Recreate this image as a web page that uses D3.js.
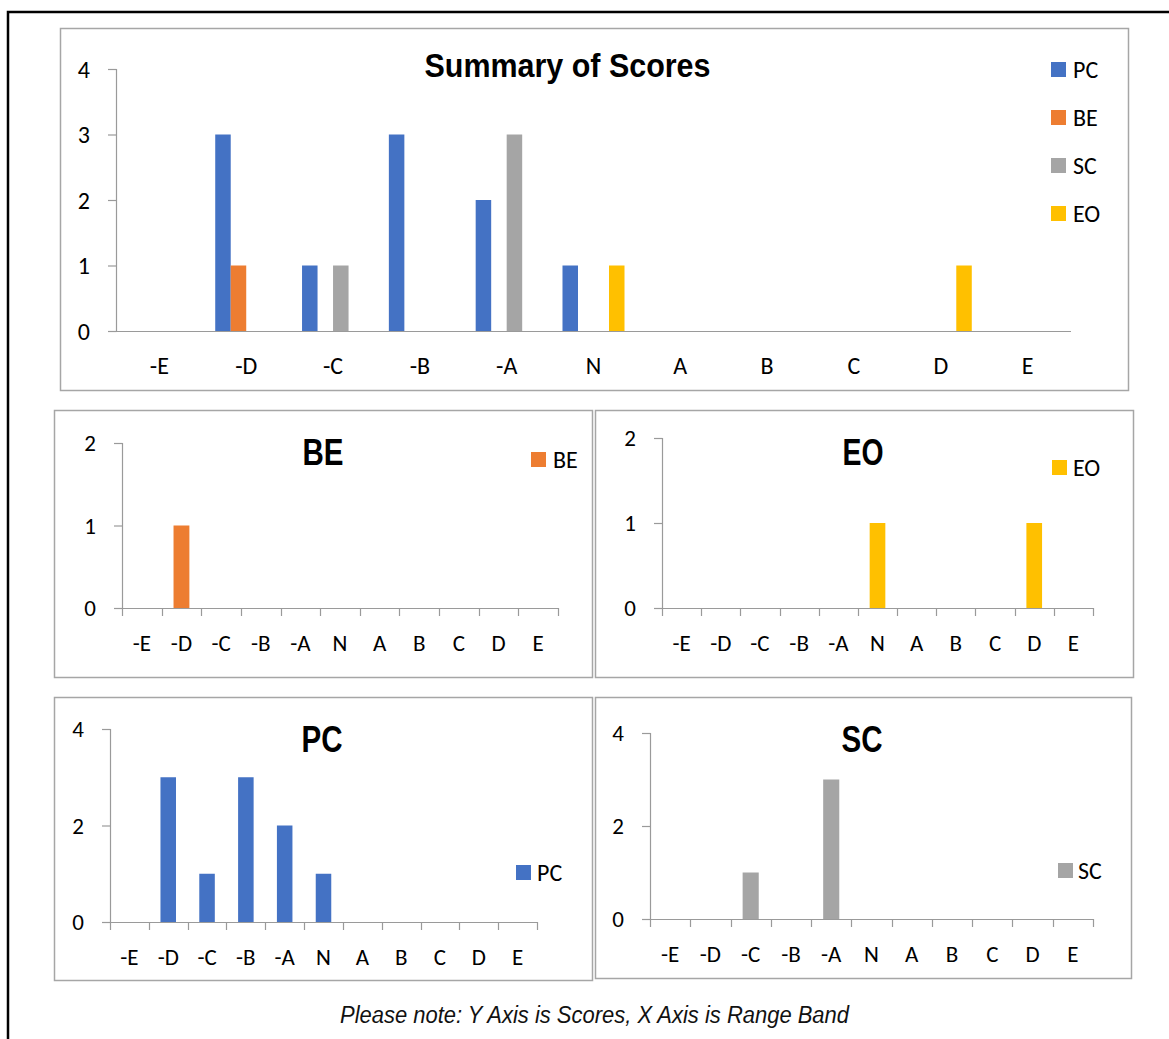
<!DOCTYPE html>
<html>
<head>
<meta charset="utf-8">
<script src="https://cdn.jsdelivr.net/npm/d3@7"></script>
<style>
  html, body { margin: 0; padding: 0; background: #fff; }
  svg { display: block; }
  .lbl { font-family: Carlito, Lato, "Open Sans", sans-serif; fill: #000; }
  .ttl { font-family: "Liberation Sans Narrow", "Arial Narrow", "Liberation Sans", Arial, sans-serif; font-weight: bold; fill: #000; }
  .note { font-family: "Liberation Sans Narrow", "Arial Narrow", "Liberation Sans", Arial, sans-serif; font-style: italic; fill: #111; }
</style>
</head>
<body>
<script>
// Range bands on the x axis
const categories = ["-E", "-D", "-C", "-B", "-A", "N", "A", "B", "C", "D", "E"];

// Score counts per range band for each group
const seriesNames = ["PC", "BE", "SC", "EO"];
const PC = [0, 3, 1, 3, 2, 1, 0, 0, 0, 0, 0];
const BE = [0, 1, 0, 0, 0, 0, 0, 0, 0, 0, 0];
const SC = [0, 0, 1, 0, 3, 0, 0, 0, 0, 0, 0];
const EO = [0, 0, 0, 0, 0, 1, 0, 0, 0, 1, 0];

// Y tick labels
const summaryTicks = [0, 1, 2, 3, 4];
const smallTicks2 = [0, 1, 2];
const smallTicks4 = [0, 2, 4];

const seriesValues = { PC, BE, SC, EO };
const colors = { PC: "#4472C4", BE: "#ED7D31", SC: "#A5A5A5", EO: "#FFC000" };

const W = 1169, H = 1039;
const axisColor = "#9a9a9a";
const frameColor = "#a6a6a6";

const svg = d3.select("body").append("svg")
  .attr("width", W).attr("height", H);

// Page border (left and top rule)
svg.append("path")
  .attr("d", `M8,${H} V12 H${W}`)
  .attr("fill", "none").attr("stroke", "#000").attr("stroke-width", 2.5);

function frame(x0, y0, x1, y1) {
  svg.append("rect")
    .attr("x", x0 + 0.5).attr("y", y0 + 0.5)
    .attr("width", x1 - x0).attr("height", y1 - y0)
    .attr("fill", "#fff").attr("stroke", frameColor).attr("stroke-width", 1.5);
}

function yAxis(g, y, ax, ticks, fontSize) {
  g.append("line")
    .attr("x1", ax + 0.5).attr("x2", ax + 0.5)
    .attr("y1", y(d3.max(ticks))).attr("y2", y(0))
    .attr("stroke", axisColor).attr("stroke-width", 1.2);
  ticks.forEach(t => {
    g.append("line")
      .attr("x1", ax - 8).attr("x2", ax + 0.5)
      .attr("y1", y(t) + 0.5).attr("y2", y(t) + 0.5)
      .attr("stroke", axisColor).attr("stroke-width", 1.2);
    g.append("text").attr("class", "lbl")
      .attr("x", ax - 26).attr("y", y(t) + fontSize * 0.36)
      .attr("text-anchor", "end").attr("font-size", fontSize)
      .text(t);
  });
}

function legendItem(g, name, sx, sy, size, tx, fontSize) {
  g.append("rect")
    .attr("x", sx).attr("y", sy).attr("width", size).attr("height", size)
    .attr("fill", colors[name]);
  g.append("text").attr("class", "lbl")
    .attr("x", tx).attr("y", sy + size / 2 + fontSize * 0.36)
    .attr("font-size", fontSize).text(name);
}

// ---------- Summary chart ----------
(function summary() {
  frame(60, 28, 1128, 390);
  const g = svg.append("g");
  const axL = 116, axR = 1071, y0 = 331, yTop = 69;
  const x0 = d3.scaleBand().domain(categories).range([axL, axR]).paddingInner(0).paddingOuter(0);
  const x1 = d3.scaleBand().domain(seriesNames).range([0, x0.bandwidth()]).paddingInner(0).paddingOuter(0.8);
  const y = d3.scaleLinear().domain([0, 4]).range([y0, yTop]);

  yAxis(g, y, axL, summaryTicks, 24);

  seriesNames.forEach(s => {
    g.selectAll(null).data(seriesValues[s].map((v, i) => ({ c: categories[i], v })))
      .enter().append("rect")
      .attr("x", d => x0(d.c) + x1(s))
      .attr("width", x1.bandwidth())
      .attr("y", d => y(d.v))
      .attr("height", d => y(0) - y(d.v))
      .attr("fill", colors[s]);
  });

  g.append("line")
    .attr("x1", axL - 8).attr("x2", axR)
    .attr("y1", y0 + 0.5).attr("y2", y0 + 0.5)
    .attr("stroke", axisColor).attr("stroke-width", 1.2);

  categories.forEach(c => {
    g.append("text").attr("class", "lbl")
      .attr("x", x0(c) + x0.bandwidth() / 2).attr("y", 374)
      .attr("text-anchor", "middle").attr("font-size", 24).text(c);
  });

  g.append("text").attr("class", "ttl")
    .attr("x", 567.5).attr("y", 77).attr("text-anchor", "middle")
    .attr("font-size", 34)
    .attr("textLength", 286).attr("lengthAdjust", "spacingAndGlyphs")
    .text("Summary of Scores");

  const legY = [62, 110, 158, 206];
  seriesNames.forEach((s, i) => legendItem(g, s, 1051, legY[i], 15, 1073, 24));
})();

// ---------- Single-series panels ----------
function panel(cfg) {
  frame(cfg.frame[0], cfg.frame[1], cfg.frame[2], cfg.frame[3]);
  const g = svg.append("g");
  const x = d3.scaleBand().domain(categories).range([cfg.axL, cfg.axR])
    .paddingInner(0.6).paddingOuter(0.3);
  const step = (cfg.axR - cfg.axL) / categories.length;
  const y = d3.scaleLinear().domain([0, d3.max(cfg.ticks)]).range([cfg.y0, cfg.yTop]);

  yAxis(g, y, cfg.axL, cfg.ticks, 23);

  const vals = seriesValues[cfg.name];
  g.selectAll(null).data(vals.map((v, i) => ({ c: categories[i], v })))
    .enter().append("rect")
    .attr("x", d => x(d.c))
    .attr("width", x.bandwidth())
    .attr("y", d => y(d.v))
    .attr("height", d => y(0) - y(d.v))
    .attr("fill", colors[cfg.name]);

  g.append("line")
    .attr("x1", cfg.axL - 8).attr("x2", cfg.axR)
    .attr("y1", cfg.y0 + 0.5).attr("y2", cfg.y0 + 0.5)
    .attr("stroke", axisColor).attr("stroke-width", 1.2);

  d3.range(categories.length + 1).forEach(i => {
    const tx = Math.round(cfg.axL + i * step) + 0.5;
    g.append("line")
      .attr("x1", tx).attr("x2", tx)
      .attr("y1", cfg.y0).attr("y2", cfg.y0 + 8)
      .attr("stroke", axisColor).attr("stroke-width", 1.2);
  });

  categories.forEach((c, i) => {
    g.append("text").attr("class", "lbl")
      .attr("x", cfg.axL + (i + 0.5) * step).attr("y", cfg.labelY)
      .attr("text-anchor", "middle").attr("font-size", 23).text(c);
  });

  g.append("text").attr("class", "ttl")
    .attr("x", cfg.titleX).attr("y", cfg.titleY).attr("text-anchor", "middle")
    .attr("font-size", 37)
    .attr("textLength", 41).attr("lengthAdjust", "spacingAndGlyphs")
    .text(cfg.name);

  legendItem(g, cfg.name, cfg.leg[0], cfg.leg[1], 15, cfg.leg[2], 24);
}

panel({ name: "BE", frame: [54, 410, 592, 677], axL: 122, axR: 558, y0: 608, yTop: 443,
        ticks: smallTicks2, labelY: 651, titleX: 323, titleY: 465, leg: [531, 452, 553] });
panel({ name: "EO", frame: [595, 410, 1133, 677], axL: 662, axR: 1093, y0: 608, yTop: 438,
        ticks: smallTicks2, labelY: 651, titleX: 863, titleY: 465, leg: [1052, 460, 1073] });
panel({ name: "PC", frame: [54, 697, 592, 980], axL: 110, axR: 537, y0: 922, yTop: 729,
        ticks: smallTicks4, labelY: 965, titleX: 322, titleY: 752, leg: [516, 865, 537] });
panel({ name: "SC", frame: [595, 697, 1131, 978], axL: 650, axR: 1093, y0: 919, yTop: 733,
        ticks: smallTicks4, labelY: 962, titleX: 862, titleY: 752, leg: [1058, 863, 1078] });

// Footnote
svg.append("text").attr("class", "note")
  .attr("x", 594.5).attr("y", 1023).attr("text-anchor", "middle")
  .attr("font-size", 23)
  .attr("textLength", 509).attr("lengthAdjust", "spacingAndGlyphs")
  .text("Please note: Y Axis is Scores, X Axis is Range Band");
</script>
</body>
</html>
